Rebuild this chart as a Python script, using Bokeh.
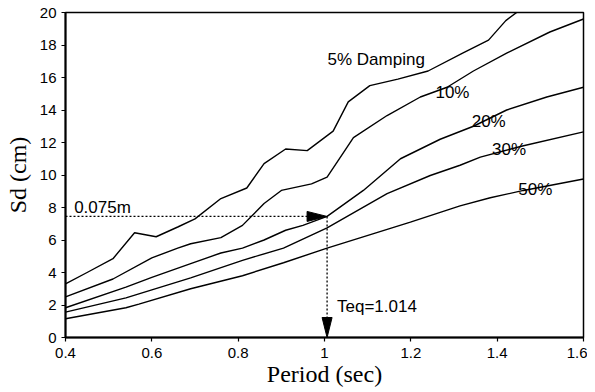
from bokeh.plotting import figure
from bokeh.models import FixedTicker, Range1d
from bokeh.core.properties import value
from bokeh.embed import file_html
from bokeh.resources import INLINE

# ---- data ----
period_5 = [0.40, 0.45, 0.51, 0.56, 0.61, 0.66, 0.70, 0.76, 0.82, 0.86, 0.91, 0.96, 1.02, 1.055, 1.105, 1.17, 1.24, 1.32, 1.38, 1.42, 1.46]
sd_5 = [3.3, 4.0, 4.85, 6.45, 6.2, 6.8, 7.3, 8.55, 9.2, 10.7, 11.6, 11.5, 12.7, 14.5, 15.5, 15.9, 16.4, 17.5, 18.3, 19.5, 20.3]

period_10 = [0.40, 0.51, 0.60, 0.66, 0.69, 0.76, 0.81, 0.86, 0.90, 0.97, 1.006, 1.052, 1.067, 1.145, 1.222, 1.284, 1.345, 1.422, 1.522, 1.60]
sd_10 = [2.5, 3.6, 4.9, 5.5, 5.77, 6.15, 6.9, 8.25, 9.05, 9.45, 9.87, 11.7, 12.3, 13.66, 14.8, 15.4, 16.4, 17.5, 18.8, 19.6]

period_20 = [0.40, 0.54, 0.60, 0.69, 0.76, 0.81, 0.86, 0.91, 0.95, 1.006, 1.09, 1.176, 1.268, 1.345, 1.422, 1.515, 1.60]
sd_20 = [1.83, 3.1, 3.7, 4.55, 5.2, 5.5, 6.0, 6.6, 6.9, 7.45, 9.05, 11.0, 12.2, 13.0, 14.0, 14.8, 15.4]

period_30 = [0.40, 0.54, 0.69, 0.81, 0.905, 1.006, 1.145, 1.245, 1.314, 1.361, 1.461, 1.60]
sd_30 = [1.56, 2.44, 3.67, 4.75, 5.5, 6.75, 8.85, 9.97, 10.6, 11.1, 11.8, 12.65]

period_50 = [0.40, 0.54, 0.57, 0.69, 0.81, 0.905, 1.006, 1.199, 1.314, 1.384, 1.461, 1.60]
sd_50 = [1.15, 1.83, 2.05, 3.0, 3.8, 4.6, 5.5, 7.1, 8.1, 8.6, 9.05, 9.75]

curve_labels = ["5% Damping", "10%", "20%", "30%", "50%"]
label_x = [1.007, 1.257, 1.341, 1.388, 1.449]
label_y = [17.1, 15.1, 13.3, 11.55, 9.1]

teq_period = 1.006      # where the dotted vertical is drawn
sd_target = 7.45        # 0.075 m
target_text = "0.075m"
teq_text = "Teq=1.014"

x_ticks = [0.4, 0.6, 0.8, 1.0, 1.2, 1.4, 1.6]
x_tick_labels = ["0.4", "0.6", "0.8", "1", "1.2", "1.4", "1.6"]
y_ticks = [0, 2, 4, 6, 8, 10, 12, 14, 16, 18, 20]

x_min, x_max = 0.4, 1.6
y_min, y_max = 0, 20

# ---- figure ----
W, H = 587, 390
p = figure(width=W, height=H, output_backend="svg", toolbar_location=None,
           x_range=Range1d(x_min, x_max), y_range=Range1d(y_min, y_max),
           min_border_left=65, min_border_right=4, min_border_top=12, min_border_bottom=53)
p.background_fill_color = "white"
p.border_fill_color = "white"
p.grid.visible = False
p.outline_line_color = "black"
p.outline_line_width = 1.5

sans = "Liberation Sans"
serif = "Liberation Serif"

for ax in (p.xaxis[0], p.yaxis[0]):
    ax.axis_line_width = 2
    ax.axis_line_color = "black"
    ax.major_tick_line_color = "black"
    ax.major_tick_line_width = 1.2
    ax.major_tick_out = 4
    ax.major_tick_in = 0
    ax.minor_tick_line_color = None
    ax.major_label_text_font = sans
    ax.major_label_text_font_size = "15px"
    ax.major_label_text_color = "black"
    ax.axis_label_text_font = serif
    ax.axis_label_text_font_size = "24px"
    ax.axis_label_text_font_style = "normal"
    ax.axis_label_text_color = "black"

p.xaxis.ticker = FixedTicker(ticks=x_ticks)
p.xaxis.major_label_overrides = dict(zip(x_ticks, x_tick_labels))
p.xaxis.major_label_standoff = 6
p.xaxis.axis_label = "Period (sec)"
p.xaxis.axis_label_standoff = 0
p.yaxis.ticker = FixedTicker(ticks=y_ticks)
p.yaxis.major_label_standoff = 5
p.yaxis.axis_label = "Sd (cm)"
p.yaxis.axis_label_standoff = 6

for xs, ys in [(period_5, sd_5), (period_10, sd_10), (period_20, sd_20),
               (period_30, sd_30), (period_50, sd_50)]:
    p.line(xs, ys, line_color="black", line_width=1.4)

# ---- dotted guides with arrow heads ----
frame_w = 518.0
frame_h = 325.0
px_x = (x_max - x_min) / frame_w
px_y = (y_max - y_min) / frame_h
head_len, head_half = 20, 5

p.line([x_min, teq_period - head_len * px_x], [sd_target, sd_target],
       line_color="black", line_width=1.3, line_dash="2 2")
p.line([teq_period, teq_period], [sd_target, y_min + head_len * px_y],
       line_color="black", line_width=1.3, line_dash="2 2")

p.patch([teq_period, teq_period - head_len * px_x, teq_period - head_len * px_x],
        [sd_target, sd_target + head_half * px_y, sd_target - head_half * px_y],
        fill_color="black", line_color="black")
p.patch([teq_period, teq_period - head_half * px_x, teq_period + head_half * px_x],
        [y_min, y_min + head_len * px_y, y_min + head_len * px_y],
        fill_color="black", line_color="black")

# ---- texts ----
p.text(label_x, label_y, text=curve_labels, text_font=value(sans),
       text_font_size="17px", text_baseline="middle", text_align="left", text_color="black")
p.text([0.42], [7.97], text=[target_text], text_font=value(sans),
       text_font_size="17px", text_baseline="middle", text_align="left", text_color="black")
p.text([1.029], [1.88], text=[teq_text], text_font=value(sans),
       text_font_size="17px", text_baseline="middle", text_align="left", text_color="black")

open("out.html", "w").write(file_html(p, INLINE))
